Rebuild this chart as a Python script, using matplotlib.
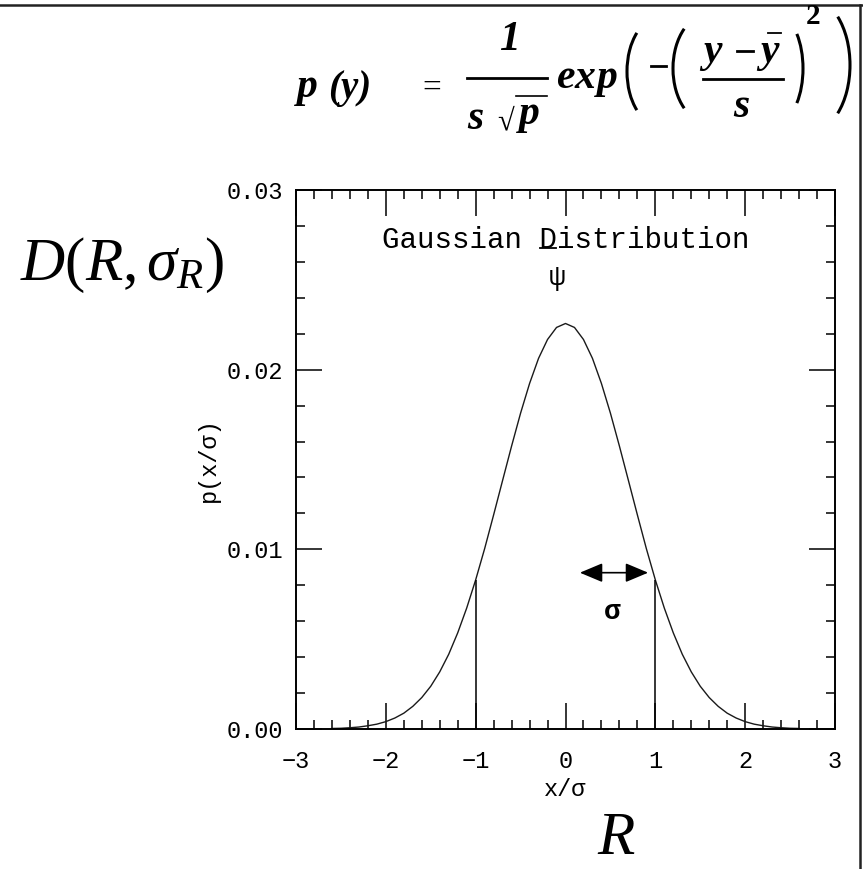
import numpy as np
import matplotlib
matplotlib.use("Agg")
import matplotlib.pyplot as plt
from matplotlib.lines import Line2D
from matplotlib.patches import Arc
from matplotlib.ticker import MultipleLocator

# curve of the distribution, p(x/sigma)
x_vals = [-2.6, -2.5, -2.4, -2.3, -2.2, -2.1, -2.0, -1.9, -1.8, -1.7, -1.6, -1.5, -1.4,
          -1.3, -1.2, -1.1, -1.0, -0.9, -0.8, -0.7, -0.6, -0.5, -0.4, -0.3, -0.2, -0.1,
          0.0, 0.1, 0.2, 0.3, 0.4, 0.5, 0.6, 0.7, 0.8, 0.9, 1.0, 1.1, 1.2, 1.3,
          1.4, 1.5, 1.6, 1.7, 1.8, 1.9, 2.0, 2.1, 2.2, 2.3, 2.4, 2.5, 2.6]
p_vals = [0.00003, 0.00004, 0.00007, 0.00011, 0.00018, 0.00027, 0.00041, 0.00061,
          0.00088, 0.00126, 0.00175, 0.00238, 0.00318, 0.00416, 0.00535, 0.00673,
          0.00830, 0.01004, 0.01192, 0.01384, 0.01575, 0.01758, 0.01923, 0.02063,
          0.02168, 0.02235, 0.02257, 0.02235, 0.02168, 0.02063, 0.01923, 0.01758,
          0.01575, 0.01384, 0.01192, 0.01004, 0.00830, 0.00673, 0.00535, 0.00416,
          0.00318, 0.00238, 0.00175, 0.00126, 0.00088, 0.00061, 0.00041, 0.00027,
          0.00018, 0.00011, 0.00007, 0.00004, 0.00003]

# +/- one sigma markers
sigma_x = [-1.0, 1.0]
sigma_p = 0.00830
arrow_x = [0.16, 0.92]
arrow_p = 0.0087

x_ticks = [-3, -2, -1, 0, 1, 2, 3]
y_ticks = [0.00, 0.01, 0.02, 0.03]

W, H = 863, 869
fig = plt.figure(figsize=(W / 100, H / 100), dpi=100)

def fx(x):
    return x / W

def fy(y):
    return 1 - y / H

mono = "Liberation Mono"
plt.rcParams["mathtext.fontset"] = "custom"
plt.rcParams["mathtext.rm"] = "Liberation Serif"
plt.rcParams["mathtext.it"] = "Liberation Serif:italic"

ax = fig.add_axes([fx(296), fy(729), fx(835) - fx(296), fy(190) - fy(729)])
ax.plot(x_vals, p_vals, color="#1a1a1a", lw=1.0)
ax.vlines(sigma_x, 0, sigma_p, color="black", lw=1.1)
ax.annotate("", xy=(arrow_x[0], arrow_p), xytext=(arrow_x[1], arrow_p),
            arrowprops=dict(arrowstyle="<|-|>,head_length=1.0,head_width=0.42",
                            color="black", lw=1.2, shrinkA=0, shrinkB=0,
                            mutation_scale=14))
ax.text(0.52, 0.0065, "σ", family=mono, fontsize=20, fontweight="bold",
        ha="center", va="center")

ax.set_xlim(-3, 3)
ax.set_ylim(0, 0.03)
ax.set_xticks(x_ticks)
ax.set_yticks(y_ticks)
ax.set_yticklabels(["%.2f" % v for v in y_ticks])
ax.xaxis.set_minor_locator(MultipleLocator(0.2))
ax.yaxis.set_minor_locator(MultipleLocator(0.002))
ax.tick_params(which="both", direction="in", top=True, right=True, width=1.1,
               colors="black")
ax.tick_params(which="major", length=18.5)
ax.tick_params(which="minor", length=6.7)
ax.tick_params(axis="x", which="major", pad=15, labelsize=17)
ax.tick_params(axis="y", which="major", pad=9, labelsize=17)
for lab in ax.get_xticklabels() + ax.get_yticklabels():
    lab.set_family(mono)
for sp in ax.spines.values():
    sp.set_linewidth(1.4)

ax.text(0.5, (729 - 790) / 539, "x/σ", transform=ax.transAxes, family=mono,
        fontsize=17, ha="center", va="center")
ax.text((208 - 296) / 539, 0.5, "p(x/σ)", transform=ax.transAxes, family=mono,
        fontsize=17, ha="center", va="center", rotation=90)

# title inside the frame, with the D underlined
title = ax.text(0.0, 0.0272, "Gaussian Distribution", family=mono, fontsize=21,
                ha="center", va="center")
ax.text(-0.09, 0.0251, "ψ", family=mono, fontsize=20, ha="center", va="center")
fig.canvas.draw()
bb = title.get_window_extent()
cw = bb.width / len("Gaussian Distribution")
ux0 = bb.x0 + 9 * cw + 1
ux1 = bb.x0 + 10 * cw - 1
fig.add_artist(Line2D([ux0 / W, ux1 / W], [fy(248)] * 2, color="black", lw=1.3))

# big symbols beside the axes
fig.text(fx(20), fy(280), r"$D(R,\sigma_R)$", fontsize=44, ha="left", va="baseline")
fig.text(fx(597), fy(867), "R", family="Liberation Serif", style="italic",
         fontsize=44, ha="left", va="bottom")

# formula across the top
bi = dict(family="Liberation Serif", style="italic", fontweight="bold",
          ha="left", va="baseline")
fig.text(fx(297), fy(97), "p", fontsize=30, **bi)
fig.text(fx(328), fy(98), "(y)", fontsize=28, **bi)
fig.text(fx(432), fy(97), "=", fontsize=24, family="Liberation Serif",
         ha="center", va="baseline")
fig.text(fx(509), fy(50), "1", fontsize=30, **dict(bi, ha="center"))
fig.add_artist(Line2D([fx(467), fx(547)], [fy(78)] * 2, color="black", lw=2))
fig.text(fx(467), fy(129), "s", fontsize=30, **bi)
fig.text(fx(497), fy(129), "√", fontsize=22, family="Liberation Serif",
         ha="left", va="baseline")
fig.add_artist(Line2D([fx(516), fx(547)], [fy(96)] * 2, color="black", lw=1.2))
fig.text(fx(519), fy(124), "p", fontsize=30, **bi)
fig.text(fx(556), fy(88), "e", fontsize=30, **bi)
fig.text(fx(575), fy(88), "x", fontsize=30, **bi)
fig.text(fx(597), fy(88), "p", fontsize=30, **bi)
fig.add_artist(Line2D([fx(651), fx(666)], [fy(66)] * 2, color="black", lw=2))
fig.text(fx(703), fy(62), "y", fontsize=30, **bi)
fig.add_artist(Line2D([fx(737), fx(753)], [fy(51)] * 2, color="black", lw=2))
fig.text(fx(760), fy(62), "y", fontsize=30, **bi)
fig.add_artist(Line2D([fx(768), fx(781)], [fy(33)] * 2, color="black", lw=1.3))
fig.add_artist(Line2D([fx(703), fx(783)], [fy(79)] * 2, color="black", lw=2))
fig.text(fx(733), fy(117), "s", fontsize=30, **bi)
fig.text(fx(806), fy(24), "2", fontsize=21, family="Liberation Serif",
         fontweight="bold", ha="left", va="baseline")

# large brackets drawn as arcs
paren_kw = dict(transform=fig.transFigure, color="black", lw=2.2)
for cx, cy, w, h, side in [(659, 71.5, 64, 107, "l"), (707, 68.5, 68, 107, "l"),
                           (777, 68.5, 52, 107, "r"), (810, 65, 80, 134, "r")]:
    t1, t2 = (120, 240) if side == "l" else (-60, 60)
    fig.add_artist(Arc((fx(cx), fy(cy)), w / W, h / H, theta1=t1, theta2=t2, **paren_kw))

# outer frame lines
fig.add_artist(Line2D([0, 1], [fy(4.5)] * 2, color="#222222", lw=1.8))
fig.add_artist(Line2D([fx(860)] * 2, [0, fy(4.5)], color="#222222", lw=1.8))

fig.savefig("out.png", dpi=100)
